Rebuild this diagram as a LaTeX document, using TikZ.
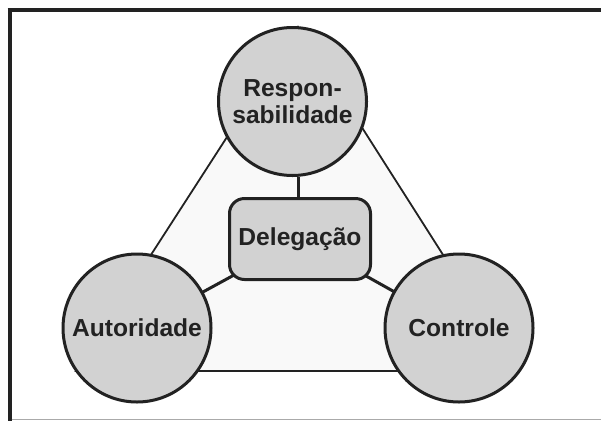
\documentclass[tikz,border=0pt]{standalone}
\usepackage{fontspec}
\setmainfont{Liberation Sans}
\usetikzlibrary{backgrounds}
\definecolor{ink}{RGB}{34,34,34}
\definecolor{bubble}{RGB}{210,210,210}
\definecolor{tri}{RGB}{249,249,249}
\definecolor{rule}{RGB}{170,170,170}
\tikzset{
  circ/.style={circle, draw=ink, line width=3pt, fill=bubble, minimum size=148pt, inner sep=0pt, align=center, text=ink, font=\fontsize{24.6}{27}\selectfont\bfseries},
  boxnode/.style={rectangle, rounded corners=15pt, draw=ink, line width=3pt, fill=bubble, minimum width=141pt, minimum height=81pt, inner sep=0pt, text=ink, font=\fontsize{24.6}{27}\selectfont\bfseries},
  link/.style={draw=ink, line width=3pt},
  triline/.style={draw=ink, line width=1.8pt, fill=tri, line join=miter},
}
\begin{document}
\begin{tikzpicture}[x=1pt, y=-1pt]
\useasboundingbox (0,0) rectangle (601,421);
% frame
\draw[ink, line width=4pt] (7.7,10.3) -- (601,10.3);
\draw[ink, line width=4pt] (9.7,8.3) -- (9.7,421);
\draw[rule, line width=1.5pt] (11.7,419.6) -- (601,419.6);
% nodes
\node[circ] (resp) at (292.5,101.5) {Respon-\\sabilidade};
\node[circ] (aut) at (137,328) {Autoridade};
\node[circ] (ctrl) at (459,328) {Controle};
\node[boxnode] (del) at (300,239) {Delegação};
\coordinate (tA) at (298,27);
\coordinate (tB) at (76,371);
\coordinate (tC) at (517,371);
\begin{scope}[on background layer]
  \path[triline] (tA) -- (tB) -- (tC) -- cycle;
  \draw[link] ([xshift=-2pt]del.north) -- ([xshift=-2pt]del.north |- resp.south);
  \draw[link] (del.center) -- (aut.center);
  \draw[link] (del.center) -- (ctrl.center);
\end{scope}
\end{tikzpicture}
\end{document}
